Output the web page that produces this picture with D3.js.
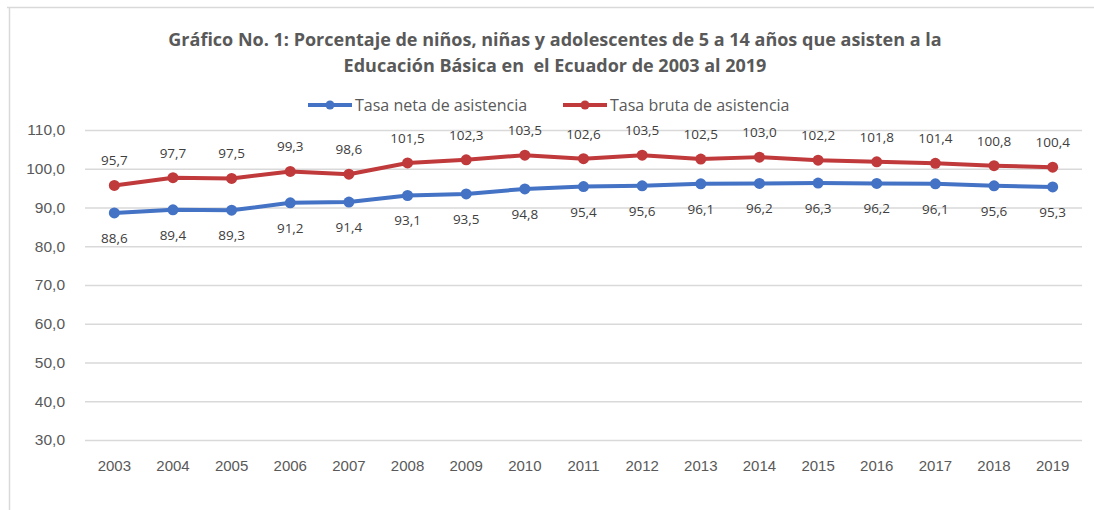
<!DOCTYPE html>
<html>
<head>
<meta charset="utf-8">
<script src="https://cdn.jsdelivr.net/npm/d3@7"></script>
<style>
  body { margin: 0; background: #fff; }
  svg { font-family: "Open Sans", "Liberation Sans", sans-serif; }
</style>
</head>
<body>
<div id="chart"></div>
<script>
var years = ["2003","2004","2005","2006","2007","2008","2009","2010","2011","2012","2013","2014","2015","2016","2017","2018","2019"];
var tasaNeta = [88.6, 89.4, 89.3, 91.2, 91.4, 93.1, 93.5, 94.8, 95.4, 95.6, 96.1, 96.2, 96.3, 96.2, 96.1, 95.6, 95.3];
var tasaBruta = [95.7, 97.7, 97.5, 99.3, 98.6, 101.5, 102.3, 103.5, 102.6, 103.5, 102.5, 103.0, 102.2, 101.8, 101.4, 100.8, 100.4];
var yTicks = [30, 40, 50, 60, 70, 80, 90, 100, 110];
var titleLines = ["Gráfico No. 1: Porcentaje de niños, niñas y adolescentes de 5 a 14 años que asisten a la",
                  "Educación Básica en  el Ecuador de 2003 al 2019"];
var seriesNames = ["Tasa neta de asistencia", "Tasa bruta de asistencia"];
var colors = ["#4472c4", "#c0393b"];

var w = 1094, h = 510,
    p = {"top": 130, "right": 12, "left": 85, "bot": 70};

var svg = d3.select("#chart").append("svg")
  .attr("width", w)
  .attr("height", h)

// frame (top + left edge of the pasted image)
svg.append("line").attr("x1", 7).attr("x2", w).attr("y1", 7.5).attr("y2", 7.5)
  .style("stroke", "#d9d9d9").style("stroke-width", 1.5)
svg.append("line").attr("x1", 9.5).attr("x2", 9.5).attr("y1", 7).attr("y2", h)
  .style("stroke", "#d9d9d9").style("stroke-width", 1.5)

var x = d3.scaleBand()
  .domain(years)
  .range([p.left, w - p.right])

var y = d3.scaleLinear()
  .domain([30, 110])
  .range([440, 130])

var fmt = function(v){ return d3.format(".1f")(v).replace(".", ","); }

// grid
svg.append("g")
  .attr("transform", "translate(" + p.left + ",0)")
  .call(d3.axisLeft(y).tickValues(yTicks).tickSize(-(w - p.right - p.left)).tickFormat(fmt).tickPadding(20))
  .call(function(g){
    g.select(".domain").remove();
    g.selectAll(".tick line").style("stroke", "#d9d9d9").style("stroke-width", 1.3);
    g.selectAll(".tick text").style("fill", "#595959").style("font-size", "15.5px");
  })

svg.append("g")
  .attr("transform", "translate(0,440)")
  .call(d3.axisBottom(x).tickSize(0).tickPadding(20))
  .call(function(g){
    g.select(".domain").remove();
    g.selectAll(".tick text").style("fill", "#595959").style("font-size", "15px");
  })

// title
svg.append("text")
  .attr("x", 555)
  .attr("y", 46)
  .style("text-anchor", "middle")
  .style("font-weight", "bold")
  .style("font-size", "18px")
  .style("fill", "#595959")
  .style("white-space", "pre")
  .selectAll("tspan")
  .data(titleLines)
  .enter().append("tspan")
    .attr("x", 555)
    .attr("dy", function(d, i){ return i == 0 ? 0 : 26 })
    .text(function(d){ return d })

// legend
var legX = [308, 563];
seriesNames.forEach(function(name, i){
  var g = svg.append("g").attr("transform", "translate(" + legX[i] + ",105)");
  g.append("line").attr("x1", 0).attr("x2", 44).attr("y1", 0).attr("y2", 0)
    .style("stroke", colors[i]).style("stroke-width", 4);
  g.append("circle").attr("cx", 22).attr("cy", 0).attr("r", 4.5).style("fill", colors[i]);
  g.append("text").attr("x", 47).attr("y", 5.5)
    .style("font-size", "16px").style("fill", "#595959")
    .text(name);
})

var line = d3.line()
  .x(function(d, i){ return x(years[i]) + x.bandwidth() / 2 })
  .y(function(d){ return y(d) })

var series = [tasaNeta, tasaBruta];
series.forEach(function(vals, s){
  svg.append("path")
    .datum(vals)
    .attr("d", line)
    .style("fill", "none")
    .style("stroke", colors[s])
    .style("stroke-width", 4)
    .style("stroke-linejoin", "round")

  svg.selectAll(".pt" + s)
    .data(vals)
    .enter()
      .append("circle")
        .attr("cx", function(d, i){ return x(years[i]) + x.bandwidth() / 2 })
        .attr("cy", function(d){ return y(d) })
        .attr("r", 5.5)
        .style("fill", colors[s])

  svg.selectAll(".lbl" + s)
    .data(vals)
    .enter()
      .append("text")
        .attr("x", function(d, i){ return x(years[i]) + x.bandwidth() / 2 })
        .attr("y", function(d){ return s == 0 ? y(d) + 30 : y(d) - 20 })
        .style("text-anchor", "middle")
        .style("font-size", "13.5px")
        .style("fill", "#404040")
        .text(function(d){ return fmt(d) })
})
</script>
</body>
</html>
